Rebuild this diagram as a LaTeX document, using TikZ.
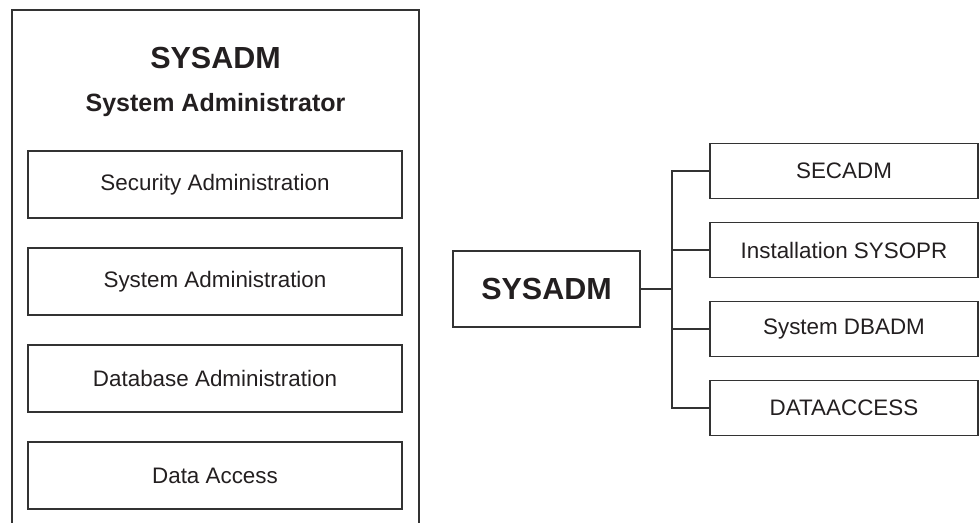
\documentclass[tikz,border=0pt]{standalone}
\usepackage{fontspec}
\setmainfont{Liberation Sans}
\definecolor{ln}{HTML}{333333}
\definecolor{tx}{HTML}{231F20}
\begin{document}
\begin{tikzpicture}[x=1pt,y=-1pt,
  box/.style={draw=ln,line width=1.4pt,inner sep=0pt,text=tx,font=\fontsize{22.4}{26}\selectfont},
  innerbox/.style={box,minimum width=374pt,minimum height=67pt},
  rbox/.style={box,minimum width=268pt,minimum height=55pt},
  conn/.style={draw=ln,line width=1.4pt},
  title/.style={text=tx,inner sep=0pt,font=\bfseries\fontsize{30.5}{34}\selectfont},
  subtitle/.style={text=tx,inner sep=0pt,font=\bfseries\fontsize{25}{29}\selectfont}]
\useasboundingbox (0,0) rectangle (979,522);
% left container
\draw[conn] (12,523) -- (12,10) -- (419,10) -- (419,523);
\node[title] (t1) at (215.5,57.5) {SYSADM};
\node[subtitle] (t2) at (215.5,105) {System Administrator};
\node[innerbox] (l1) at (215,184.5) {Security Administration};
\node[innerbox] (l2) at (215,281.5) {System Administration};
\node[innerbox] (l3) at (215,378.5) {Database Administration};
\node[innerbox] (l4) at (215,475.5) {Data Access};
% right tree
\node[box,font=\bfseries\fontsize{30.5}{34}\selectfont,minimum width=187pt,minimum height=76pt] (mid) at (546.5,289) {SYSADM};
\node[rbox] (r1) at (844,171) {SECADM};
\node[rbox] (r2) at (844,250) {Installation SYSOPR};
\node[rbox] (r3) at (844,329) {System DBADM};
\node[rbox] (r4) at (844,408) {DATAACCESS};
\coordinate (tr) at (672,289);
\draw[conn] (mid.east) -- (tr);
\draw[conn] (tr) |- (r1.west);
\draw[conn] (tr) |- (r2.west);
\draw[conn] (tr) |- (r3.west);
\draw[conn] (tr) |- (r4.west);
\end{tikzpicture}
\end{document}
